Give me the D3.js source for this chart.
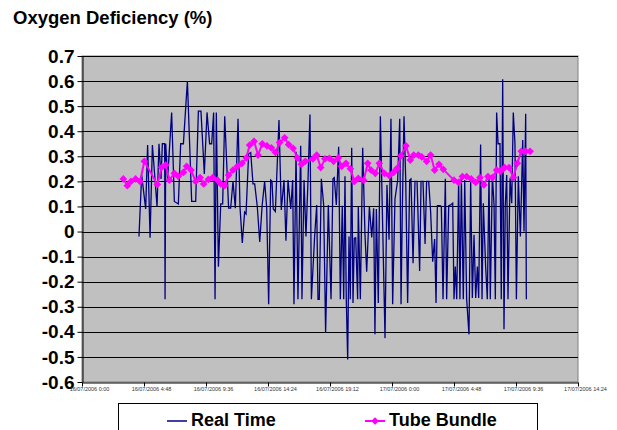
<!DOCTYPE html>
<html>
<head>
<meta charset="utf-8">
<script src="https://cdn.jsdelivr.net/npm/d3@7"></script>
<style>
  body { margin: 0; background: #fff; }
  svg { font-family: Arial, 'Liberation Sans', sans-serif; }
</style>
</head>
<body>
<div id="chart"></div>
<script>
// hours since 16/07/2006 0:00 for the date axis ticks
var startTime = new Date(2006, 6, 16, 0, 0)
var tickHours = [0, 4.8, 9.6, 14.4, 19.2, 24, 28.8, 33.6, 38.4]
var yTicks = [-0.6, -0.5, -0.4, -0.3, -0.2, -0.1, 0, 0.1, 0.2, 0.3, 0.4, 0.5, 0.6, 0.7]

// [hours, value]
var realTime = [
  [4.41, -0.02], [4.62, 0.225], [4.93, 0.09], [5.08, 0.345], [5.27, -0.025], [5.45, 0.345],
  [5.81, 0.10], [5.96, 0.35], [6.12, 0.21], [6.22, 0.35], [6.40, 0.35], [6.43, -0.27],
  [6.48, 0.35], [6.63, 0.21], [6.94, 0.475], [7.15, 0.12], [7.46, 0.11], [7.64, 0.35],
  [7.85, 0.35], [8.16, 0.60], [8.49, 0.12], [8.80, 0.12], [9.01, 0.48], [9.21, 0.48],
  [9.47, 0.23], [9.68, 0.475], [9.88, 0.35], [10.04, 0.35], [10.19, 0.475], [10.30, -0.27],
  [10.40, 0.475], [10.56, -0.14], [10.74, 0.11], [10.89, 0.11], [11.05, 0.46], [11.35, 0.093],
  [11.51, 0.093], [11.69, 0.2], [11.87, 0.093], [12.08, 0.45], [12.23, 0.10], [12.41, -0.046],
  [12.59, 0.077], [12.70, 0.07], [12.90, 0.31], [13.06, 0.315], [13.24, 0.19], [13.37, 0.19],
  [13.57, 0.10], [13.76, -0.042], [13.94, 0.10], [14.14, 0.2], [14.30, 0.093], [14.45, -0.29],
  [14.61, 0.205], [14.71, 0.2], [14.81, 0.09], [14.97, 0.08], [15.25, 0.445], [15.43, 0.086],
  [15.64, 0.205], [15.79, -0.037], [15.95, 0.205], [16.16, 0.09], [16.31, 0.205], [16.41, -0.29],
  [16.57, 0.318], [16.72, -0.27], [16.93, 0.342], [17.03, -0.27], [17.19, 0.205], [17.34, -0.02],
  [17.50, 0.21], [17.65, 0.467], [17.76, -0.27], [18.01, -0.02], [18.17, 0.106], [18.27, -0.27],
  [18.37, -0.27], [18.53, 0.21], [18.71, 0.106], [18.86, -0.405], [19.07, 0.106], [19.28, -0.27],
  [19.43, 0.21], [19.53, 0.215], [19.69, 0.106], [19.87, 0.338], [20.00, -0.27], [20.15, 0.103],
  [20.26, -0.27], [20.36, 0.22], [20.46, -0.27], [20.57, -0.51], [20.67, -0.02], [20.77, -0.27],
  [20.88, 0.334], [20.98, -0.285], [21.08, -0.027], [21.19, -0.025], [21.34, -0.27], [21.39, 0.1],
  [21.55, -0.27], [21.73, 0.334], [21.91, -0.013], [22.04, -0.16], [22.25, 0.10], [22.43, -0.024],
  [22.58, 0.093], [22.68, -0.41], [22.79, 0.09], [22.94, -0.285], [23.10, 0.46], [23.25, 0.09],
  [23.46, -0.425], [23.61, 0.186], [23.77, -0.033], [23.92, 0.45], [24.05, -0.29], [24.23, 0.13],
  [24.44, 0.205], [24.60, 0.45], [24.70, -0.29], [24.80, 0.09], [24.93, 0.46], [25.06, 0.21],
  [25.21, -0.285], [25.37, 0.205], [25.47, 0.21], [25.63, -0.126], [25.78, 0.2], [25.94, 0.2],
  [26.14, -0.157], [26.25, 0.2], [26.40, 0.2], [26.56, -0.05], [26.68, 0.2], [26.84, 0.2],
  [26.99, 0.08], [27.15, -0.12], [27.30, -0.03], [27.41, -0.285], [27.51, 0.103], [27.72, 0.103],
  [27.82, 0.1], [27.95, -0.27], [28.13, 0.21], [28.23, -0.27], [28.39, 0.103], [28.54, 0.106],
  [28.70, 0.113], [28.80, -0.27], [28.90, -0.14], [29.01, -0.27], [29.16, 0.205], [29.26, -0.27],
  [29.37, 0.21], [29.52, -0.27], [29.63, 0.205], [29.78, -0.27], [29.96, -0.41], [30.09, 0.205],
  [30.22, -0.265], [30.35, -0.013], [30.48, -0.265], [30.61, -0.14], [30.71, -0.265], [30.86, 0.347],
  [30.97, -0.27], [31.07, 0.113], [31.25, -0.14], [31.38, -0.27], [31.51, 0.223], [31.61, -0.27],
  [31.77, 0.225], [31.90, 0.106], [32.00, -0.27], [32.10, 0.475], [32.21, 0.35], [32.36, 0.35],
  [32.46, -0.27], [32.57, 0.607], [32.62, 0.106], [32.67, -0.39], [32.77, 0.106], [32.88, 0.225],
  [32.98, -0.27], [33.14, 0.212], [33.27, 0.113], [33.39, 0.475], [33.52, 0.35], [33.63, -0.27],
  [33.78, 0.22], [33.94, -0.02], [34.12, 0.365], [34.22, 0.0], [34.35, 0.47], [34.40, -0.27]
]

var tubeBundle = [
  [3.20, 0.21], [3.51, 0.183], [3.79, 0.2], [4.15, 0.21], [4.49, 0.2], [4.83, 0.28],
  [5.83, 0.188], [6.17, 0.256], [6.48, 0.265], [6.76, 0.205], [7.15, 0.232], [7.46, 0.22],
  [7.85, 0.236], [8.10, 0.26], [8.44, 0.245], [8.80, 0.2], [9.14, 0.215], [9.42, 0.19],
  [9.78, 0.208], [10.12, 0.215], [10.50, 0.205], [10.74, 0.19], [11.05, 0.183], [11.35, 0.225],
  [11.69, 0.245], [12.03, 0.26], [12.39, 0.272], [12.72, 0.294], [12.98, 0.345], [13.32, 0.36],
  [13.63, 0.305], [13.96, 0.35], [14.32, 0.342], [14.66, 0.334], [14.97, 0.316], [15.30, 0.355],
  [15.69, 0.374], [16.00, 0.347], [16.34, 0.332], [16.67, 0.294], [16.98, 0.268], [17.29, 0.28],
  [17.88, 0.29], [18.17, 0.305], [18.48, 0.255], [18.81, 0.29], [19.15, 0.292], [19.48, 0.28],
  [19.85, 0.294], [20.10, 0.26], [20.44, 0.272], [20.78, 0.25], [21.08, 0.2], [21.39, 0.212],
  [21.81, 0.205], [22.12, 0.272], [22.38, 0.245], [22.71, 0.232], [23.02, 0.272], [23.41, 0.232],
  [23.79, 0.223], [24.13, 0.236], [24.39, 0.252], [24.70, 0.302], [25.08, 0.342], [25.42, 0.285],
  [25.68, 0.305], [26.04, 0.305], [26.30, 0.298], [26.68, 0.28], [26.99, 0.305], [27.30, 0.245],
  [27.64, 0.268], [27.97, 0.248], [28.80, 0.205], [29.14, 0.196], [29.45, 0.219], [29.78, 0.219],
  [30.14, 0.21], [30.48, 0.196], [30.81, 0.215], [31.12, 0.186], [31.43, 0.219], [31.77, 0.215],
  [32.10, 0.245], [32.41, 0.241], [32.72, 0.255], [33.06, 0.255], [33.40, 0.215], [33.70, 0.272],
  [34.01, 0.32], [34.35, 0.32], [34.69, 0.32]
]

var W = 617
var H = 430
var plot = {left: 82, right: 578, top: 56, bottom: 382}

var toDate = (h) => { return new Date(startTime.getTime() + h * 3600000) }

var svg = d3.select('#chart')
  .append('svg')
  .attr('width', W)
  .attr('height', H)

var x = d3.scaleTime()
  .domain([toDate(tickHours[0]), toDate(tickHours[tickHours.length - 1])])
  .range([plot.left, plot.right])
var y = d3.scaleLinear()
  .domain([-0.6, 0.7])
  .range([plot.bottom, plot.top])

// title
svg.append('text')
  .attr('x', 13)
  .attr('y', 24)
  .attr('font-size', 18.5)
  .attr('font-weight', 'bold')
  .text('Oxygen Deficiency (%)')

// plot area
svg.append('rect')
  .attr('x', plot.left)
  .attr('y', plot.top)
  .attr('width', plot.right - plot.left)
  .attr('height', plot.bottom - plot.top)
  .attr('fill', '#c0c0c0')
  .attr('stroke', '#808080')
  .attr('stroke-width', 1)

svg.append('g')
  .selectAll('line')
  .data(yTicks.slice(1))
  .enter()
  .append('line')
  .attr('x1', plot.left)
  .attr('x2', plot.right)
  .attr('y1', (d) => { return Math.round(y(d)) + 0.5 })
  .attr('y2', (d) => { return Math.round(y(d)) + 0.5 })
  .attr('stroke', '#000')
  .attr('stroke-width', 1)

// axes
var yAxis = svg.append('g')
  .attr('transform', 'translate(' + (plot.left + 0.5) + ',0)')
  .call(d3.axisLeft(y)
    .tickValues(yTicks)
    .tickSize(5)
    .tickSizeOuter(0)
    .tickFormat((d) => { return String(Math.round(d * 10) / 10) }))
yAxis.select('.domain').attr('stroke', '#000')
yAxis.selectAll('text')
  .attr('font-size', 19)
  .attr('font-weight', 'bold')
  .attr('fill', '#000')
  .attr('font-family', 'Arial, Liberation Sans, sans-serif')

var xAxis = svg.append('g')
  .attr('transform', 'translate(0,' + (plot.bottom + 0.5) + ')')
  .call(d3.axisBottom(x)
    .tickValues(tickHours.map(toDate))
    .tickSize(4)
    .tickSizeOuter(0)
    .tickFormat(d3.timeFormat('%d/%m/%Y %-H:%M')))
xAxis.select('.domain').attr('stroke', '#000')
xAxis.selectAll('text')
  .attr('font-size', 5.5)
  .attr('fill', '#333')
  .attr('font-family', 'Arial, Liberation Sans, sans-serif')
  .attr('x', 7)
  .attr('y', 5)

// series
var line = d3.line()
  .x((d) => { return x(toDate(d[0])) })
  .y((d) => { return y(d[1]) })

svg.append('path')
  .datum(realTime)
  .attr('d', line)
  .attr('fill', 'none')
  .attr('stroke', '#000080')
  .attr('stroke-width', 1.3)
  .attr('stroke-linejoin', 'miter')

svg.append('path')
  .datum(tubeBundle)
  .attr('d', line)
  .attr('fill', 'none')
  .attr('stroke', '#ff00ff')
  .attr('stroke-width', 2)

var diamond = d3.symbol().type(d3.symbolSquare).size(30)
svg.append('g')
  .selectAll('path')
  .data(tubeBundle)
  .enter()
  .append('path')
  .attr('d', diamond)
  .attr('transform', (d) => { return 'translate(' + x(toDate(d[0])) + ',' + y(d[1]) + ') rotate(45)' })
  .attr('fill', '#ff00ff')

// legend
var legend = svg.append('g')
legend.append('rect')
  .attr('x', 118.5)
  .attr('y', 403.5)
  .attr('width', 419)
  .attr('height', 40)
  .attr('fill', '#fff')
  .attr('stroke', '#000')
legend.append('line')
  .attr('x1', 167)
  .attr('x2', 187)
  .attr('y1', 421)
  .attr('y2', 421)
  .attr('stroke', '#000080')
  .attr('stroke-width', 1.5)
legend.append('text')
  .attr('x', 191)
  .attr('y', 426)
  .attr('font-size', 18)
  .attr('font-weight', 'bold')
  .text('Real Time')
legend.append('line')
  .attr('x1', 365)
  .attr('x2', 385)
  .attr('y1', 421)
  .attr('y2', 421)
  .attr('stroke', '#ff00ff')
  .attr('stroke-width', 2)
legend.append('path')
  .attr('d', diamond)
  .attr('transform', 'translate(375,421) rotate(45)')
  .attr('fill', '#ff00ff')
legend.append('text')
  .attr('x', 389)
  .attr('y', 426)
  .attr('font-size', 18)
  .attr('font-weight', 'bold')
  .text('Tube Bundle')
</script>
</body>
</html>
